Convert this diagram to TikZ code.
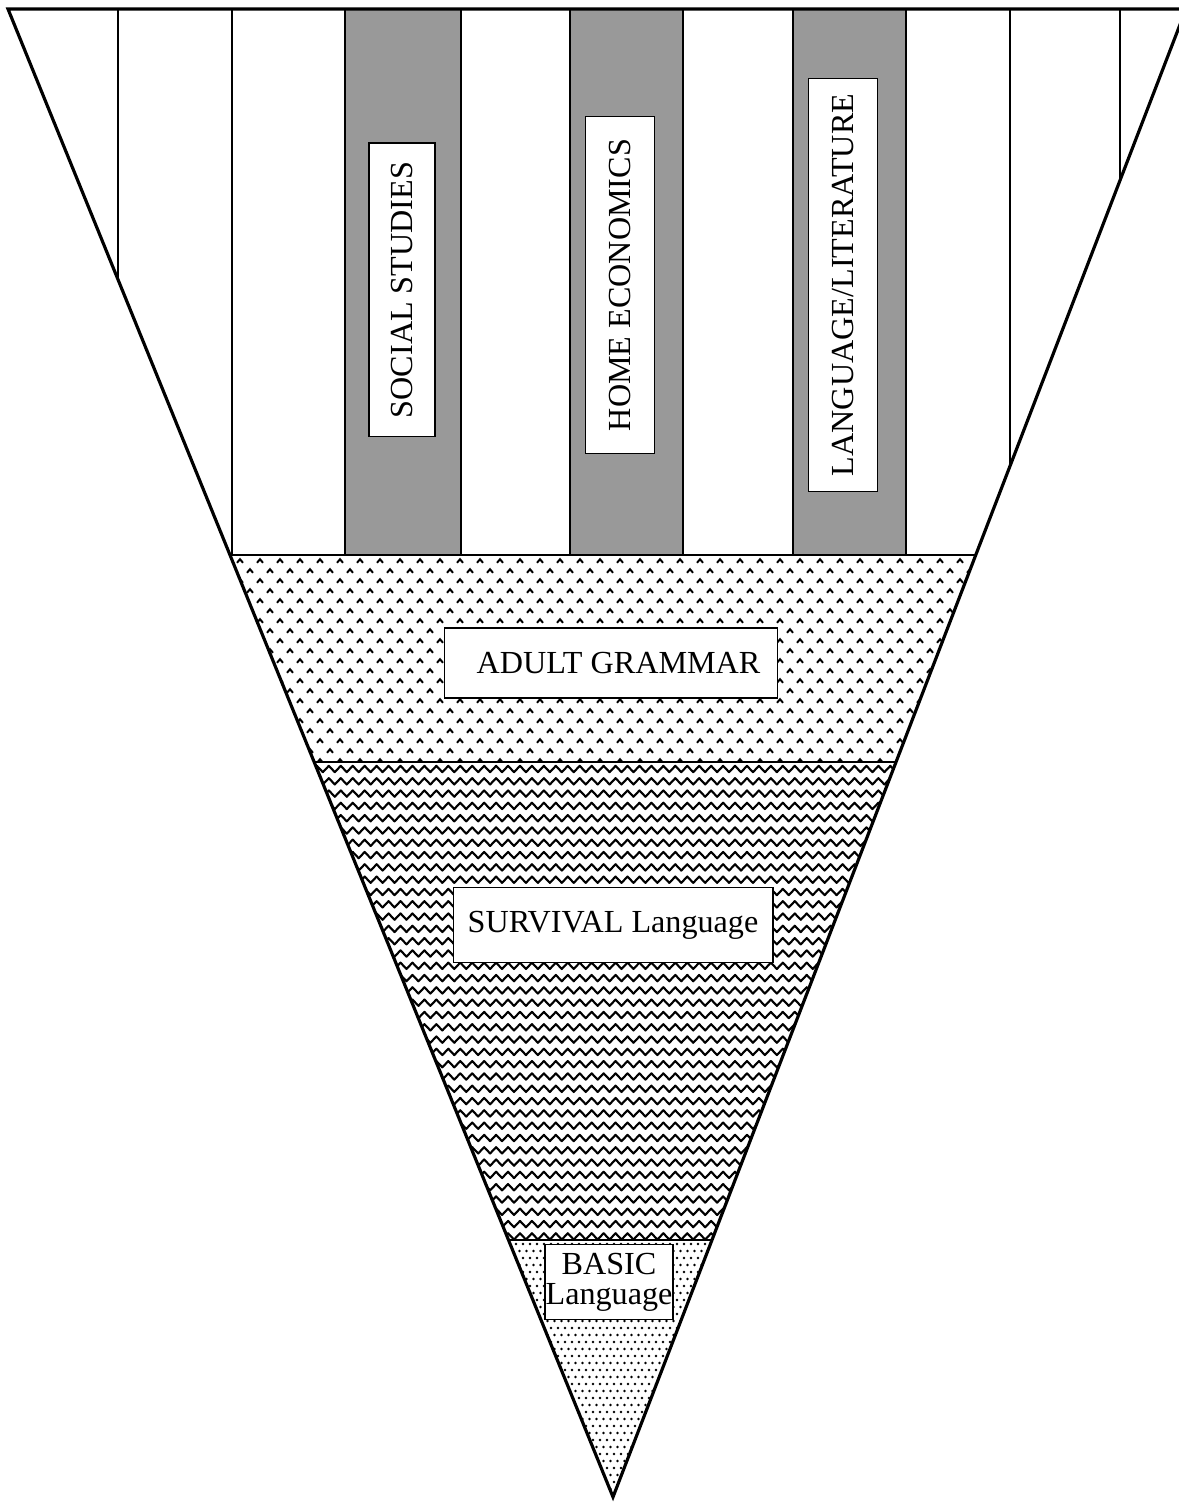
\documentclass[tikz,border=0pt]{standalone}
\usepackage{fontspec}
\setmainfont{Liberation Serif}
\usetikzlibrary{decorations.pathmorphing}
\tikzstyle{tag}=[draw,fill=white,line width=0.6pt,inner sep=0pt,align=center,font=\fontsize{18.3}{17}\selectfont]
\tikzstyle{divider}=[line width=1.4pt]

\begin{document}
\begin{tikzpicture}[x=0.02cm,y=-0.02cm]
	\tikzstyle{edge}=[line width=1.8pt,line join=miter]
	\tikzstyle{caret}=[line width=1.1pt]
	\tikzstyle{wave}=[line width=1.2pt,line join=round,decorate,decoration={zigzag,segment length=6.8pt,amplitude=1.8pt}]
	\useasboundingbox (0,0) rectangle (1178,1503);
	\coordinate (tl) at (8,9);
	\coordinate (tr) at (1186,9);
	\coordinate (tip) at (613,1497);
	\begin{scope}
		\clip (tl) -- (tr) -- (tip) -- cycle;
		% subject columns
		\foreach \c/\w in {345/116,570/113,793/113}
			\fill[black!40] (\c,9) rectangle ++(\w,546);
		\foreach \c in {118,232,345,461,570,683,793,906,1010,1120}
			\draw[line width=1.2pt] (\c,9) -- (\c,555);
		% grammar band
		\begin{scope}
			\clip (0,555) rectangle (1178,762);
			\foreach \r in {0,...,20}{
				\pgfmathsetmacro\yy{561+10*\r}
				\pgfmathsetmacro\xs{220+10*mod(\r,2)}
				\foreach \k in {0,...,38}
					\draw[caret] (\xs+20*\k-3,\yy+1.8) -- ++(3,-3.6) -- ++(3,3.6);
			}
		\end{scope}
		% survival band
		\begin{scope}
			\clip (0,762) rectangle (1178,1240);
			\foreach \r in {0,...,39}
				\draw[wave] (290,769+12.3*\r) -- (950,769+12.3*\r);
		\end{scope}
		% basic band
		\begin{scope}
			\clip (0,1240) rectangle (1178,1503);
			\foreach \r in {0,...,37}{
				\pgfmathsetmacro\xs{495+3.5*mod(\r,2)}
				\foreach \k in {0,...,34}
					\fill (\xs+7*\k,1244+7*\r) circle (0.75pt);
			}
		\end{scope}
		\draw[divider] (0,555) -- (1178,555);
		\draw[divider] (0,762) -- (1178,762);
		\draw[divider] (0,1240) -- (1178,1240);
	\end{scope}
	\draw[edge] (tl) -- (tr) -- (tip) -- cycle;

	\node[tag,rotate=90,minimum width=5.88cm,minimum height=1.32cm] (social) at (402,290) {SOCIAL STUDIES};
	\node[tag,rotate=90,minimum width=6.74cm,minimum height=1.38cm] (home) at (620,285) {HOME ECONOMICS};
	\node[tag,rotate=90,minimum width=8.28cm,minimum height=1.38cm] (langlit) at (843,285) {LANGUAGE/LITERATURE};
	\node[tag,minimum width=6.66cm,minimum height=1.4cm] (grammar) at (611,663) {\hspace{0.3cm}ADULT GRAMMAR};
	\node[tag,minimum width=6.4cm,minimum height=1.5cm] (survival) at (613,925) {SURVIVAL Language};
	\node[tag,minimum width=2.56cm,minimum height=1.5cm] (basic) at (609,1282) {BASIC\\Language};
\end{tikzpicture}
\end{document}
